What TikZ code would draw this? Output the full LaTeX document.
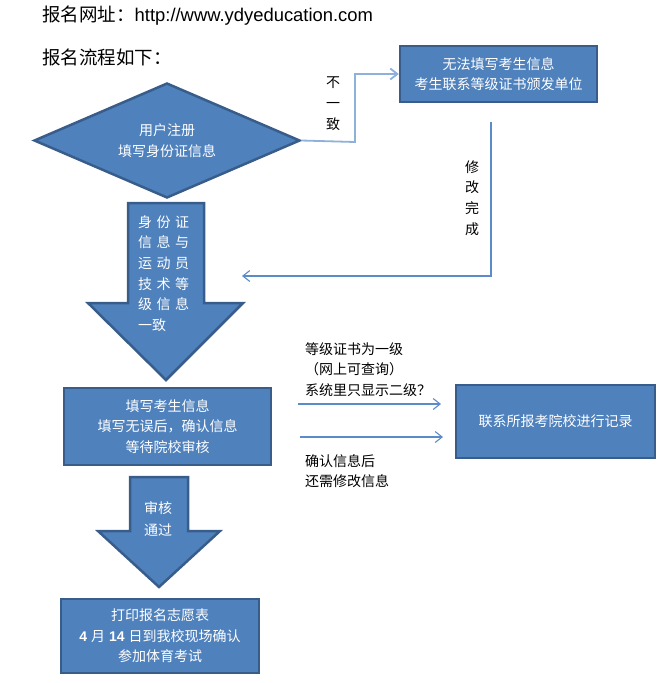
\documentclass[tikz,border=0pt]{standalone}
\usepackage{fontspec}
\setmainfont{Noto Sans CJK SC}
\newfontfamily\lat{Liberation Sans}
\usetikzlibrary{shapes.geometric,arrows.meta}
\definecolor{boxfill}{HTML}{4F81BD}
\definecolor{boxborder}{HTML}{385D8A}
\definecolor{conn}{HTML}{5B8BC9}
\definecolor{connlight}{HTML}{8EB0DA}
\tikzset{
  bluebox/.style={draw=boxborder, fill=boxfill, line width=2.5pt, text=white, align=center,
    font=\fontsize{14}{20.5}\selectfont, inner sep=0pt},
  bigarrow/.style={draw=boxborder, fill=boxfill, line width=2.5pt, line join=miter},
  conline/.style={draw=conn, line width=1.1pt},
  conarrow/.style={conline, -{Straight Barb[length=7pt,width=11pt]}},
  lbl/.style={font=\fontsize{14}{20.5}\selectfont, inner sep=0pt, text=black},
  wlbl/.style={font=\fontsize{14}{20.6}\selectfont, inner sep=0pt, text=white},
  ttl/.style={font=\fontsize{18.5}{20}\selectfont, inner sep=0pt, anchor=west}
}
\begin{document}
\begin{tikzpicture}[x=1pt,y=-1pt]
\useasboundingbox (0,0) rectangle (664,683);
% titles
\node[ttl] (t1) at (42,16) {报名网址：{\lat\fontsize{18.4}{20}\selectfont http://www.ydyeducation.com}};
\node[ttl] (t2) at (42,57) {报名流程如下：};
% diamond
\node[diamond, draw=boxborder, fill=boxfill, line width=2.5pt, text=white, align=center,
  font=\fontsize{14}{21}\selectfont, minimum width=266pt, minimum height=115pt, aspect=2.31, inner sep=0pt]
  (dia) at (167,140.5) {用户注册\\填写身份证信息};
% box 1
\node[bluebox, minimum width=197pt, minimum height=56pt] (b1) at (498.5,74) {无法填写考生信息\\考生联系等级证书颁发单位};
% big arrow 1
\draw[bigarrow] (128,203) -- (204,203) -- (204,303) -- (243,303) -- (166,380) -- (88,303) -- (128,303) -- cycle;
\node[wlbl, anchor=west, align=left] (a1txt) at (138,273.5)
  {身\hspace{4.5pt}份\hspace{4.5pt}证\\信\hspace{4.5pt}息\hspace{4.5pt}与\\运\hspace{4.5pt}动\hspace{4.5pt}员\\技\hspace{4.5pt}术\hspace{4.5pt}等\\级\hspace{4.5pt}信\hspace{4.5pt}息\\一致};
% box 2, 3
\node[bluebox, minimum width=207pt, minimum height=77pt] (b2) at (167.5,426.5) {填写考生信息\\填写无误后，确认信息\\等待院校审核};
\node[bluebox, minimum width=199pt, minimum height=73pt] (b3) at (555.5,421.5) {联系所报考院校进行记录};
% big arrow 2
\draw[bigarrow] (130,477) -- (188,477) -- (188,531) -- (220,531) -- (159,587) -- (98,531) -- (130,531) -- cycle;
\node[wlbl, align=center, font=\fontsize{14}{22}\selectfont] (a2txt) at (158,519) {审核\\通过};
% box 4
\node[bluebox, minimum width=198pt, minimum height=74pt] (b4) at (160,636) {打印报名志愿表\\{\lat\bfseries 4}\hspace{4pt}月\hspace{4pt}{\lat\bfseries 14}\hspace{4pt}日到我校现场确认\\参加体育考试};
% connectors
\coordinate (c1) at (355,142);
\draw[draw=connlight, line width=1.8pt, -{Straight Barb[length=7pt,width=11pt]}] (dia.east) -- (c1) |- (b1.west);
\node[lbl, align=center, font=\fontsize{14}{21}\selectfont] (l1) at (333,104) {不\\一\\致};
\coordinate (r1) at (491,122);
\coordinate (r2) at (491,276);
\coordinate (r3) at (242,276);
\draw[conarrow] (r1) -- (r2) -- (r3);
\node[lbl, align=center, font=\fontsize{14}{20.7}\selectfont] (l2) at (472,198) {修\\改\\完\\成};
\coordinate (s1) at (298,404);
\coordinate (e1) at (441,404);
\coordinate (s2) at (300,437);
\coordinate (e2) at (443,437);
\draw[conarrow] (s1) -- (e1);
\draw[conarrow] (s2) -- (e2);
\node[lbl, anchor=west, align=left] (l3) at (305,369.5) {等级证书为一级\\（网上可查询）\\系统里只显示二级？};
\node[lbl, anchor=west, align=left] (l4) at (305,471) {确认信息后\\还需修改信息};
\end{tikzpicture}
\end{document}
